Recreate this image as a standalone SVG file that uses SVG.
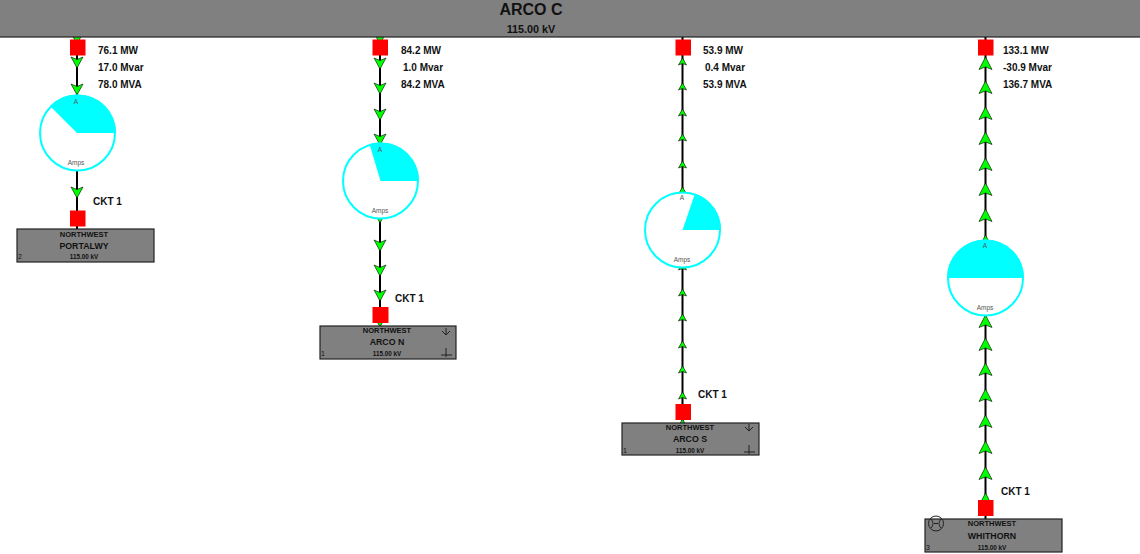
<svg xmlns="http://www.w3.org/2000/svg" width="1140" height="554" viewBox="0 0 1140 554">
<style>
text{font-family:"Liberation Sans",Arial,sans-serif;fill:#111;text-anchor:middle}
.v{font-size:10px;font-weight:bold;text-anchor:start}
.bus{fill:#808080;stroke:#222;stroke-width:1.2}
.line{stroke:#000;stroke-width:2;fill:none}
.brk{fill:#f00}
.ring{fill:#fff;stroke:#0ff;stroke-width:2}
.pie{fill:#0ff}
.a{font-size:6.500px;fill:#555}
.n1{font-size:7.500px;font-weight:bold}
.n2{font-size:8.800px;font-weight:bold}
.n3{font-size:6.300px;font-weight:bold}
.n4{font-size:7px;text-anchor:start}
.sym{fill:none;stroke:#222;stroke-width:1}
</style>
<defs>
<path id="dn" d="M0 5L-6 -6L0 -3.500L6 -6Z" fill="#0f0" stroke="#000" stroke-width="0.6"/>
<path id="up" d="M0 0L-6.500 12.500L0 10L6.500 12.500Z" fill="#0f0" stroke="#000" stroke-width="0.6"/>
<path id="ups" d="M0 0L-4 7L0 5.500L4 7Z" fill="#0f0" stroke="#000" stroke-width="0.6"/>
</defs>
<g id="connectors">
<path class="line" d="M77 37V229"/>
<path class="line" d="M380 37V326"/>
<path class="line" d="M682.500 37V423"/>
<path class="line" d="M985.500 37V519"/>
<use href="#dn" x="77" y="39"/><use href="#dn" x="77" y="63"/><use href="#dn" x="77" y="90"/><use href="#dn" x="77" y="193"/>
<use href="#dn" x="380" y="39"/><use href="#dn" x="380" y="64"/><use href="#dn" x="380" y="89"/><use href="#dn" x="380" y="115"/><use href="#dn" x="380" y="140"/><use href="#dn" x="380" y="218"/><use href="#dn" x="380" y="246"/><use href="#dn" x="380" y="271"/><use href="#dn" x="380" y="296"/><use href="#dn" x="380" y="322"/>
<use href="#ups" x="682.500" y="58"/><use href="#ups" x="682.500" y="83"/><use href="#ups" x="682.500" y="109"/><use href="#ups" x="682.500" y="134"/><use href="#ups" x="682.500" y="161"/><use href="#ups" x="682.500" y="187"/><use href="#ups" x="682.500" y="263"/><use href="#ups" x="682.500" y="289"/><use href="#ups" x="682.500" y="314"/><use href="#ups" x="682.500" y="341"/><use href="#ups" x="682.500" y="366"/><use href="#ups" x="682.500" y="392"/><use href="#ups" x="682.500" y="419"/>
<use href="#up" x="985.500" y="57"/><use href="#up" x="985.500" y="81"/><use href="#up" x="985.500" y="107"/><use href="#up" x="985.500" y="132"/><use href="#up" x="985.500" y="158"/><use href="#up" x="985.500" y="183"/><use href="#up" x="985.500" y="209"/><use href="#up" x="985.500" y="235"/><use href="#up" x="985.500" y="315"/><use href="#up" x="985.500" y="338"/><use href="#up" x="985.500" y="363"/><use href="#up" x="985.500" y="389"/><use href="#up" x="985.500" y="415"/><use href="#up" x="985.500" y="441"/><use href="#up" x="985.500" y="467"/><use href="#up" x="985.500" y="493"/>
</g>
<g id="bus-arco-c">
<rect class="bus" x="-2" y="-2" width="1144" height="39"/>
<text x="531" y="15" font-size="16" font-weight="bold">ARCO C</text>
<text x="531" y="32.500" font-size="10.800" font-weight="bold">115.00 kV</text>
</g>
<g id="branch-portalwy">
<rect class="brk" x="70" y="39.500" width="15.500" height="16"/>
<rect class="brk" x="70" y="210.500" width="15.500" height="16"/>
<text class="v" x="98" y="54">76.1 MW</text><text class="v" x="98" y="71">17.0 Mvar</text><text class="v" x="98" y="88">78.0 MVA</text>
<circle class="ring" cx="77.500" cy="133" r="37.500"/>
<path class="pie" d="M77 133H116A38.500 38.500 0 0 0 50 106Z"/>
<text class="a" x="76" y="104">A</text><text class="a" x="76" y="165">Amps</text>
<text class="v" x="93" y="205">CKT 1</text>
</g>
<g id="bus-portalwy">
<rect class="bus" x="17" y="229" width="137" height="33"/>
<text class="n1" x="84" y="237">NORTHWEST</text><text class="n2" x="84" y="249">PORTALWY</text><text class="n3" x="84" y="259">115.00 kV</text><text class="n4" x="18" y="259">2</text>
</g>
<g id="branch-arco-n">
<rect class="brk" x="372.500" y="39.500" width="15.500" height="16"/>
<rect class="brk" x="372.500" y="307" width="16" height="16"/>
<text class="v" x="401" y="54">84.2 MW</text><text class="v" x="403" y="71">1.0 Mvar</text><text class="v" x="401" y="88">84.2 MVA</text>
<circle class="ring" cx="380.500" cy="181" r="37.500"/>
<path class="pie" d="M380.500 181H419A38.500 38.500 0 0 0 369.500 144Z"/>
<text class="a" x="380" y="152">A</text><text class="a" x="380" y="213">Amps</text>
<text class="v" x="395" y="302">CKT 1</text>
</g>
<g id="bus-arco-n">
<rect class="bus" x="320" y="326" width="136" height="33"/>
<text class="n1" x="387" y="333">NORTHWEST</text><text class="n2" x="387" y="345">ARCO N</text><text class="n3" x="387" y="356">115.00 kV</text><text class="n4" x="321" y="356">1</text>
<path class="sym" d="M446 328V335M442 331L446 335L450 331M446 348V357M441 355H452"/>
</g>
<g id="branch-arco-s">
<rect class="brk" x="675.500" y="39.500" width="15.500" height="16"/>
<rect class="brk" x="675.500" y="404" width="15.500" height="16"/>
<text class="v" x="703" y="54">53.9 MW</text><text class="v" x="705" y="71">0.4 Mvar</text><text class="v" x="703" y="88">53.9 MVA</text>
<circle class="ring" cx="682.500" cy="230" r="37.500"/>
<path class="pie" d="M682.500 230H721A38.500 38.500 0 0 0 695 193.500Z"/>
<text class="a" x="682" y="200">A</text><text class="a" x="682" y="262">Amps</text>
<text class="v" x="698" y="398">CKT 1</text>
</g>
<g id="bus-arco-s">
<rect class="bus" x="622" y="423" width="137" height="32"/>
<text class="n1" x="690" y="430">NORTHWEST</text><text class="n2" x="690" y="442">ARCO S</text><text class="n3" x="690" y="453">115.00 kV</text><text class="n4" x="623" y="453">1</text>
<path class="sym" d="M749 424V431M745 427L749 431L753 427M749 445V454M744 452H755"/>
</g>
<g id="branch-whithorn">
<rect class="brk" x="978" y="500" width="15.500" height="16"/>
<rect class="brk" x="978" y="39.500" width="15.500" height="16"/>
<text class="v" x="1003" y="54">133.1 MW</text><text class="v" x="1003" y="71">-30.9 Mvar</text><text class="v" x="1003" y="88">136.7 MVA</text>
<circle class="ring" cx="985.500" cy="278" r="37.500"/>
<path class="pie" d="M947 278A38.500 38.500 0 0 1 1024 278Z"/>
<text class="a" x="985" y="248">A</text><text class="a" x="985" y="310">Amps</text>
<text class="v" x="1001" y="495">CKT 1</text>
</g>
<g id="bus-whithorn">
<rect class="bus" x="925" y="519" width="137" height="33"/>
<text class="n1" x="992" y="526">NORTHWEST</text><text class="n2" x="992" y="539">WHITHORN</text><text class="n3" x="992" y="550">115.00 kV</text><text class="n4" x="926" y="550">3</text>
<circle class="sym" cx="936" cy="523.500" r="7.500"/><path class="sym" d="M931 519Q935 523.500 931 528M941 519Q937 523.500 941 528M934 523.500H938"/>
</g>
</svg>
